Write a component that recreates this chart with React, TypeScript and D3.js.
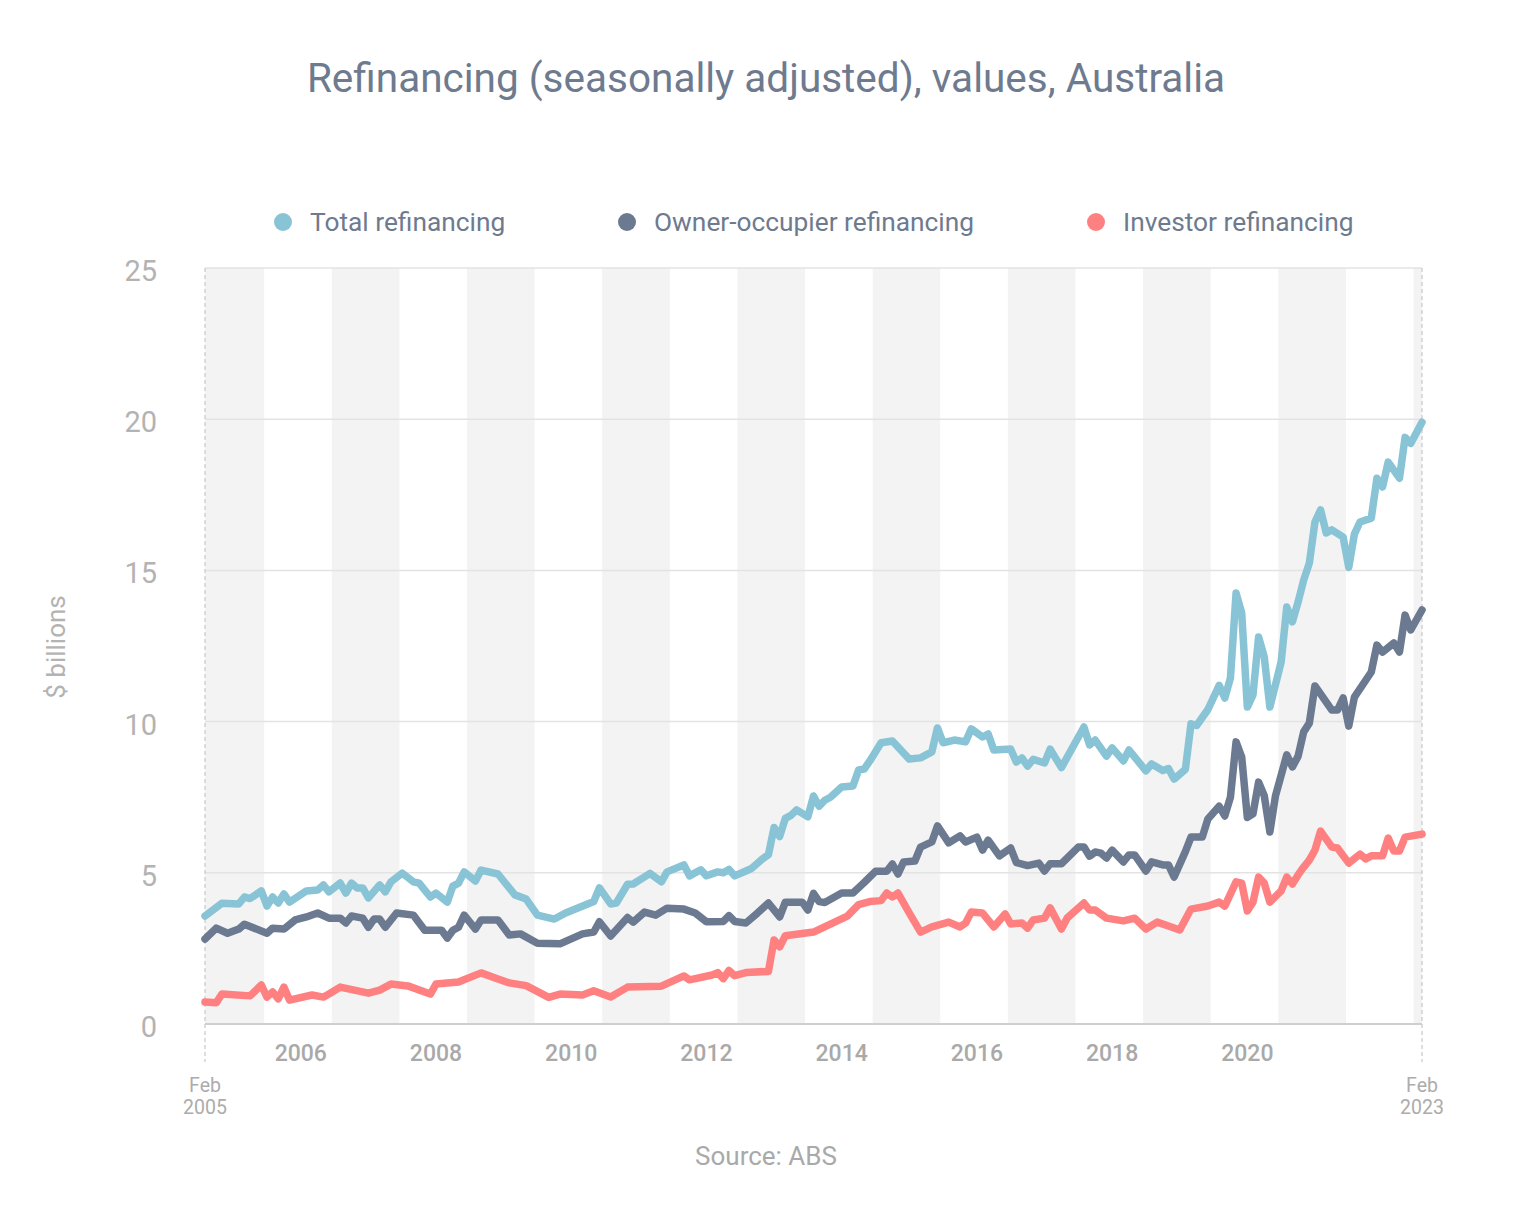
import React from "react";
import * as d3 from "d3";

const totalData: [string, number][] = [
  ["2005-02", 3.57], ["2005-05", 3.99], ["2005-08", 3.97], ["2005-09", 4.2], ["2005-10", 4.15],
  ["2005-12", 4.4], ["2006-01", 3.9], ["2006-02", 4.2], ["2006-03", 4.0], ["2006-04", 4.3],
  ["2006-05", 4.03], ["2006-08", 4.4], ["2006-10", 4.43], ["2006-11", 4.6], ["2006-12", 4.37],
  ["2007-02", 4.66], ["2007-03", 4.33], ["2007-04", 4.66], ["2007-05", 4.5], ["2007-06", 4.5],
  ["2007-07", 4.17], ["2007-09", 4.6], ["2007-10", 4.37], ["2007-11", 4.7], ["2008-01", 4.99],
  ["2008-03", 4.7], ["2008-04", 4.66], ["2008-06", 4.2], ["2008-07", 4.33], ["2008-09", 4.03],
  ["2008-10", 4.56], ["2008-11", 4.66], ["2008-12", 5.03], ["2009-02", 4.73], ["2009-03", 5.09],
  ["2009-06", 4.96], ["2009-09", 4.27], ["2009-11", 4.13], ["2010-01", 3.6], ["2010-04", 3.47],
  ["2010-06", 3.67], ["2010-11", 4.05], ["2010-12", 4.5], ["2011-02", 3.97], ["2011-03", 4.0],
  ["2011-05", 4.62], ["2011-06", 4.63], ["2011-09", 4.98], ["2011-11", 4.7], ["2011-12", 5.03],
  ["2012-03", 5.26], ["2012-04", 4.9], ["2012-06", 5.1], ["2012-07", 4.9], ["2012-09", 5.03],
  ["2012-10", 5.0], ["2012-11", 5.11], ["2012-12", 4.9], ["2013-02", 5.06], ["2013-03", 5.14],
  ["2013-05", 5.47], ["2013-06", 5.6], ["2013-07", 6.5], ["2013-08", 6.2], ["2013-09", 6.8],
  ["2013-10", 6.9], ["2013-11", 7.08], ["2014-01", 6.85], ["2014-02", 7.54], ["2014-03", 7.2],
  ["2014-04", 7.4], ["2014-05", 7.5], ["2014-07", 7.84], ["2014-09", 7.87], ["2014-10", 8.4],
  ["2014-11", 8.43], ["2014-12", 8.7], ["2015-02", 9.3], ["2015-04", 9.36], ["2015-07", 8.76],
  ["2015-09", 8.8], ["2015-11", 9.0], ["2015-12", 9.79], ["2016-01", 9.3], ["2016-03", 9.39],
  ["2016-05", 9.33], ["2016-06", 9.76], ["2016-08", 9.49], ["2016-09", 9.59], ["2016-10", 9.06],
  ["2017-01", 9.09], ["2017-02", 8.66], ["2017-03", 8.8], ["2017-04", 8.53], ["2017-05", 8.75],
  ["2017-07", 8.63], ["2017-08", 9.09], ["2017-10", 8.48], ["2018-02", 9.82], ["2018-03", 9.23],
  ["2018-04", 9.39], ["2018-06", 8.86], ["2018-07", 9.13], ["2018-09", 8.7], ["2018-10", 9.06],
  ["2019-01", 8.37], ["2019-02", 8.6], ["2019-04", 8.38], ["2019-05", 8.45], ["2019-06", 8.1],
  ["2019-08", 8.42], ["2019-09", 9.93], ["2019-10", 9.87], ["2019-12", 10.4], ["2020-02", 11.2],
  ["2020-03", 10.78], ["2020-04", 11.44], ["2020-05", 14.25], ["2020-06", 13.59], ["2020-07", 10.48],
  ["2020-08", 10.88], ["2020-09", 12.8], ["2020-10", 12.14], ["2020-11", 10.48], ["2021-01", 11.97],
  ["2021-02", 13.79], ["2021-03", 13.3], ["2021-04", 13.95], ["2021-05", 14.68], ["2021-06", 15.24],
  ["2021-07", 16.6], ["2021-08", 17.0], ["2021-09", 16.24], ["2021-10", 16.34], ["2021-12", 16.1],
  ["2022-01", 15.1], ["2022-02", 16.2], ["2022-03", 16.6], ["2022-05", 16.73], ["2022-06", 18.05],
  ["2022-07", 17.76], ["2022-08", 18.58], ["2022-10", 18.05], ["2022-11", 19.4], ["2022-12", 19.2],
  ["2023-02", 19.9],
];

const ownerData: [string, number][] = [
  ["2005-02", 2.81], ["2005-04", 3.17], ["2005-06", 3.0], ["2005-08", 3.14], ["2005-09", 3.3],
  ["2006-01", 3.0], ["2006-02", 3.17], ["2006-04", 3.14], ["2006-06", 3.44], ["2006-08", 3.54],
  ["2006-10", 3.67], ["2006-12", 3.5], ["2007-02", 3.5], ["2007-03", 3.34], ["2007-04", 3.57],
  ["2007-06", 3.5], ["2007-07", 3.2], ["2007-08", 3.47], ["2007-09", 3.47], ["2007-10", 3.2],
  ["2007-12", 3.67], ["2008-03", 3.6], ["2008-05", 3.1], ["2008-08", 3.1], ["2008-09", 2.84],
  ["2008-10", 3.1], ["2008-11", 3.2], ["2008-12", 3.6], ["2009-02", 3.14], ["2009-03", 3.44],
  ["2009-06", 3.44], ["2009-08", 2.94], ["2009-10", 2.98], ["2010-01", 2.67], ["2010-05", 2.65],
  ["2010-09", 2.98], ["2010-11", 3.04], ["2010-12", 3.38], ["2011-02", 2.91], ["2011-05", 3.52],
  ["2011-06", 3.37], ["2011-08", 3.7], ["2011-10", 3.6], ["2011-12", 3.83], ["2012-03", 3.8],
  ["2012-05", 3.67], ["2012-07", 3.38], ["2012-10", 3.39], ["2012-11", 3.58], ["2012-12", 3.39],
  ["2013-02", 3.34], ["2013-04", 3.66], ["2013-06", 4.0], ["2013-08", 3.54], ["2013-09", 4.03],
  ["2013-12", 4.03], ["2014-01", 3.77], ["2014-02", 4.32], ["2014-03", 4.05], ["2014-04", 4.02],
  ["2014-07", 4.33], ["2014-09", 4.33], ["2014-11", 4.68], ["2015-01", 5.05], ["2015-03", 5.05],
  ["2015-04", 5.29], ["2015-05", 4.96], ["2015-06", 5.36], ["2015-08", 5.39], ["2015-09", 5.85],
  ["2015-11", 6.02], ["2015-12", 6.55], ["2016-02", 5.99], ["2016-04", 6.22], ["2016-05", 6.02],
  ["2016-07", 6.18], ["2016-08", 5.75], ["2016-09", 6.08], ["2016-11", 5.56], ["2017-01", 5.82],
  ["2017-02", 5.34], ["2017-04", 5.24], ["2017-06", 5.32], ["2017-07", 5.06], ["2017-08", 5.3],
  ["2017-10", 5.3], ["2018-01", 5.85], ["2018-02", 5.85], ["2018-03", 5.55], ["2018-04", 5.69],
  ["2018-05", 5.65], ["2018-06", 5.49], ["2018-07", 5.75], ["2018-09", 5.36], ["2018-10", 5.59],
  ["2018-11", 5.59], ["2019-01", 5.06], ["2019-02", 5.36], ["2019-04", 5.26], ["2019-05", 5.26],
  ["2019-06", 4.86], ["2019-08", 5.7], ["2019-09", 6.18], ["2019-11", 6.18], ["2019-12", 6.78],
  ["2020-02", 7.2], ["2020-03", 6.88], ["2020-04", 7.5], ["2020-05", 9.33], ["2020-06", 8.83],
  ["2020-07", 6.83], ["2020-08", 6.95], ["2020-09", 8.0], ["2020-10", 7.55], ["2020-11", 6.35],
  ["2020-12", 7.55], ["2021-02", 8.9], ["2021-03", 8.5], ["2021-04", 8.85], ["2021-05", 9.66],
  ["2021-06", 9.95], ["2021-07", 11.18], ["2021-10", 10.38], ["2021-11", 10.38], ["2021-12", 10.78],
  ["2022-01", 9.85], ["2022-02", 10.81], ["2022-05", 11.64], ["2022-06", 12.53], ["2022-07", 12.3],
  ["2022-09", 12.6], ["2022-10", 12.3], ["2022-11", 13.52], ["2022-12", 13.03], ["2023-02", 13.69],
];

const investorData: [string, number][] = [
  ["2005-02", 0.73], ["2005-04", 0.7], ["2005-05", 0.99], ["2005-10", 0.93], ["2005-12", 1.29],
  ["2006-01", 0.89], ["2006-02", 1.06], ["2006-03", 0.83], ["2006-04", 1.22], ["2006-05", 0.79],
  ["2006-09", 0.96], ["2006-11", 0.89], ["2006-12", 0.99], ["2007-02", 1.22], ["2007-07", 1.02],
  ["2007-09", 1.12], ["2007-11", 1.32], ["2008-02", 1.26], ["2008-06", 0.99], ["2008-07", 1.32],
  ["2008-11", 1.39], ["2009-03", 1.69], ["2009-06", 1.49], ["2009-08", 1.36], ["2009-11", 1.27],
  ["2010-03", 0.88], ["2010-05", 0.99], ["2010-09", 0.96], ["2010-11", 1.1], ["2011-02", 0.89],
  ["2011-05", 1.22], ["2011-11", 1.25], ["2012-03", 1.59], ["2012-04", 1.46], ["2012-08", 1.62],
  ["2012-09", 1.7], ["2012-10", 1.5], ["2012-11", 1.77], ["2012-12", 1.6], ["2013-02", 1.7],
  ["2013-06", 1.74], ["2013-07", 2.78], ["2013-08", 2.55], ["2013-09", 2.92], ["2014-02", 3.04],
  ["2014-08", 3.57], ["2014-10", 3.95], ["2014-12", 4.05], ["2015-02", 4.08], ["2015-03", 4.33],
  ["2015-04", 4.2], ["2015-05", 4.33], ["2015-07", 3.67], ["2015-09", 3.04], ["2015-11", 3.21],
  ["2016-02", 3.37], ["2016-04", 3.21], ["2016-05", 3.34], ["2016-06", 3.7], ["2016-08", 3.67],
  ["2016-10", 3.21], ["2016-12", 3.64], ["2017-01", 3.31], ["2017-03", 3.34], ["2017-04", 3.17],
  ["2017-05", 3.44], ["2017-07", 3.5], ["2017-08", 3.84], ["2017-10", 3.14], ["2017-11", 3.5],
  ["2018-02", 4.0], ["2018-03", 3.77], ["2018-04", 3.77], ["2018-06", 3.5], ["2018-09", 3.41],
  ["2018-11", 3.5], ["2019-01", 3.14], ["2019-03", 3.37], ["2019-05", 3.24], ["2019-07", 3.11],
  ["2019-09", 3.8], ["2019-12", 3.9], ["2020-02", 4.03], ["2020-03", 3.9], ["2020-05", 4.7],
  ["2020-06", 4.66], ["2020-07", 3.74], ["2020-08", 4.03], ["2020-09", 4.86], ["2020-10", 4.66],
  ["2020-11", 4.03], ["2021-01", 4.4], ["2021-02", 4.86], ["2021-03", 4.63], ["2021-04", 4.93],
  ["2021-05", 5.19], ["2021-06", 5.42], ["2021-07", 5.75], ["2021-08", 6.38], ["2021-10", 5.85],
  ["2021-11", 5.82], ["2022-01", 5.32], ["2022-03", 5.62], ["2022-04", 5.46], ["2022-05", 5.56],
  ["2022-07", 5.56], ["2022-08", 6.15], ["2022-09", 5.72], ["2022-10", 5.72], ["2022-11", 6.18],
  ["2023-02", 6.28],
];

const seriesNames = ["Total refinancing", "Owner-occupier refinancing", "Investor refinancing"];
const seriesColors = ["#88c4d6", "#6b7a90", "#ff8080"];
const yTicks = [0, 5, 10, 15, 20, 25];
const yearLabels = [2006, 2008, 2010, 2012, 2014, 2016, 2018, 2020];
const shadedYears = [2005, 2007, 2009, 2011, 2013, 2015, 2017, 2019, 2021, 2023];
const startLabel = ["Feb", "2005"];
const endLabel = ["Feb", "2023"];

const W = 1524;
const H = 1210;
const FONT = "Roboto, 'Noto Sans', sans-serif";

function monthIndex(s: string): number {
  const [y, m] = s.split("-").map(Number);
  return (y - 2005) * 12 + (m - 2);
}

export default function App() {
  const x = d3.scaleLinear().domain([0, 216]).range([205, 1422]);
  const y = d3.scaleLinear().domain([0, 25]).range([1024, 268]);
  const line = d3
    .line<[string, number]>()
    .x((d) => x(monthIndex(d[0])))
    .y((d) => y(d[1]));

  const allSeries = [totalData, ownerData, investorData];
  const legendX = [283, 627, 1096];

  return (
    <div style={{ position: "fixed", left: 0, top: 0 }}>
      <svg width={W} height={H} style={{ display: "block", background: "#fff" }} fontFamily={FONT}>
        <text x={766} y={92} textAnchor="middle" fontSize={40.5} fill="#6e7a8e">
          Refinancing (seasonally adjusted), values, Australia
        </text>

        {seriesNames.map((n, i) => (
          <g key={n}>
            <circle cx={legendX[i]} cy={222} r={9} fill={seriesColors[i]} />
            <text x={legendX[i] + 27} y={231} fontSize={26.3} fill="#6e7a8e">
              {n}
            </text>
          </g>
        ))}

        {shadedYears.map((yr) => {
          const s = Math.max(0, (yr - 2005) * 12 - 1.5);
          const e = Math.min(216, (yr - 2005) * 12 + 10.5);
          return (
            <rect key={yr} x={x(s)} y={y(25)} width={x(e) - x(s)} height={y(0) - y(25)} fill="#f3f3f3" />
          );
        })}

        {yTicks.filter((t) => t > 0).map((t) => (
          <line key={t} x1={x(0)} x2={x(216)} y1={y(t)} y2={y(t)} stroke="#e3e3e3" strokeWidth={1.5} />
        ))}
        <line x1={x(0)} x2={x(216)} y1={y(0)} y2={y(0)} stroke="#cfcfcf" strokeWidth={2} />

        {[0, 216].map((m) => (
          <line key={m} x1={x(m)} x2={x(m)} y1={y(25)} y2={1062} stroke="#c8c8c8" strokeWidth={1.2} strokeDasharray="4,3" />
        ))}

        {yTicks.map((t) => (
          <text key={t} x={157} y={y(t) + 13} textAnchor="end" fontSize={29} fill="#b3b3b3">
            {t}
          </text>
        ))}

        <text
          transform={`translate(65,647) rotate(-90)`}
          textAnchor="middle"
          fontSize={26}
          fill="#b3b3b3"
        >
          $ billions
        </text>

        {yearLabels.map((yr) => (
          <text key={yr} x={x((yr - 2005) * 12 + 5)} y={1061} textAnchor="middle" fontSize={23} fontWeight={500} fill="#a9a9a9">
            {yr}
          </text>
        ))}

        {[startLabel, endLabel].map((lab, i) => (
          <text key={i} x={x(i === 0 ? 0 : 216)} textAnchor="middle" fontSize={19.5} fill="#acacac">
            <tspan x={x(i === 0 ? 0 : 216)} y={1092}>{lab[0]}</tspan>
            <tspan x={x(i === 0 ? 0 : 216)} y={1114}>{lab[1]}</tspan>
          </text>
        ))}

        {allSeries.map((d, i) => (
          <path
            key={i}
            d={line(d) || ""}
            fill="none"
            stroke={seriesColors[i]}
            strokeWidth={7.5}
            strokeLinejoin="round"
            strokeLinecap="round"
          />
        ))}

        <text x={766} y={1165} textAnchor="middle" fontSize={26} fill="#a9a9a9">
          Source: ABS
        </text>
      </svg>
    </div>
  );
}
